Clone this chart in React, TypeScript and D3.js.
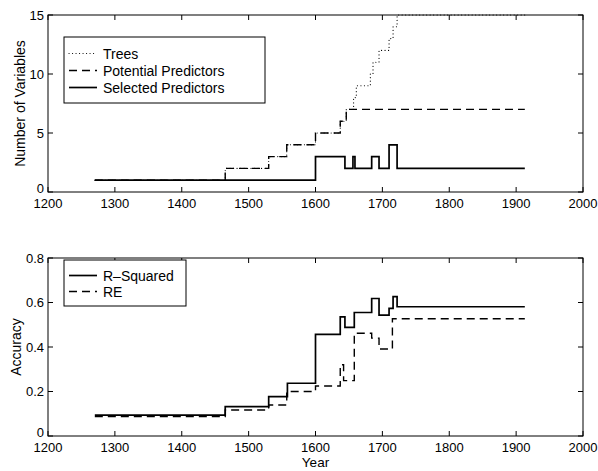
import React, { useRef, useEffect } from 'react';
import * as d3 from 'd3';

// step series: [year, value] — each value holds until the next year
const END_YEAR = 1913;

const trees = [
  [1270, 1], [1465, 2], [1530, 3], [1557, 4], [1600, 5], [1637, 6], [1646, 7],
  [1657, 8], [1661, 9], [1682, 10], [1686, 11], [1695, 12], [1710, 13], [1716, 14], [1722, 15],
];
const potentialPredictors = [
  [1270, 1], [1465, 2], [1530, 3], [1557, 4], [1600, 5], [1637, 6], [1646, 7],
];
const selectedPredictors = [
  [1270, 1], [1600, 3], [1644, 2], [1656, 3], [1659, 2], [1684, 3], [1695, 2], [1710, 4], [1722, 2],
];

const rSquared = [
  [1270, 0.094], [1465, 0.132], [1530, 0.177], [1558, 0.237], [1600, 0.457], [1637, 0.535],
  [1644, 0.488], [1658, 0.555], [1684, 0.618], [1695, 0.543], [1710, 0.574], [1716, 0.626], [1722, 0.581],
];
const re = [
  [1270, 0.087], [1465, 0.117], [1530, 0.139], [1557, 0.2], [1600, 0.225], [1637, 0.32],
  [1642, 0.249], [1658, 0.462], [1684, 0.44], [1695, 0.391], [1715, 0.527],
];

const xTicks = [1200, 1300, 1400, 1500, 1600, 1700, 1800, 1900, 2000];
const topYTicks = [0, 5, 10, 15];
const bottomYTicks = [0, 0.2, 0.4, 0.6, 0.8];

const FONT = '"Liberation Sans", Arial, Helvetica, sans-serif';

const withEnd = (s) => [...s, [END_YEAR, s[s.length - 1][1]]];

export default function App() {
  const ref = useRef(null);

  useEffect(() => {
    const svg = d3.select(ref.current);
    svg.selectAll('*').remove();

    const left = 48, right = 583;
    const x = d3.scaleLinear().domain([1200, 2000]).range([left, right]);

    const drawPanel = (top, bottom, yDomain, yTicks, yFmt, series, yLabel, yLabelX, legendBox) => {
      const y = d3.scaleLinear().domain(yDomain).range([bottom, top]);
      const g = svg.append('g');

      const line = d3.line().x(d => x(d[0])).y(d => y(d[1])).curve(d3.curveStepAfter);
      series.forEach(s => {
        g.append('path')
          .datum(withEnd(s.data))
          .attr('fill', 'none')
          .attr('stroke', '#000')
          .attr('stroke-width', s.width)
          .attr('stroke-dasharray', s.dash)
          .attr('stroke-linecap', s.cap || 'butt')
          .attr('d', line);
      });

      // box + inward ticks (both sides)
      g.append('rect')
        .attr('x', left).attr('y', top)
        .attr('width', right - left).attr('height', bottom - top)
        .attr('fill', 'none').attr('stroke', '#000').attr('stroke-width', 1);

      xTicks.forEach(t => {
        g.append('line').attr('x1', x(t)).attr('x2', x(t)).attr('y1', bottom).attr('y2', bottom - 5).attr('stroke', '#000');
        g.append('line').attr('x1', x(t)).attr('x2', x(t)).attr('y1', top).attr('y2', top + 5).attr('stroke', '#000');
        g.append('text')
          .attr('x', x(t)).attr('y', bottom + 16)
          .attr('text-anchor', 'middle')
          .style('font-family', FONT).style('font-size', '13px')
          .text(t);
      });
      yTicks.forEach(t => {
        g.append('line').attr('x1', left).attr('x2', left + 5).attr('y1', y(t)).attr('y2', y(t)).attr('stroke', '#000');
        g.append('line').attr('x1', right).attr('x2', right - 5).attr('y1', y(t)).attr('y2', y(t)).attr('stroke', '#000');
        g.append('text')
          .attr('x', left - 4).attr('y', y(t) - (t === 0 ? 4 : 0))
          .attr('dy', '0.36em')
          .attr('text-anchor', 'end')
          .style('font-family', FONT).style('font-size', '13px')
          .text(yFmt(t));
      });

      g.append('text')
        .attr('transform', `translate(${yLabelX},${(top + bottom) / 2}) rotate(-90)`)
        .attr('text-anchor', 'middle')
        .style('font-family', FONT).style('font-size', '14px')
        .text(yLabel);

      // legend
      const lg = g.append('g');
      lg.append('rect')
        .attr('x', legendBox.x).attr('y', legendBox.y)
        .attr('width', legendBox.w).attr('height', legendBox.h)
        .attr('fill', '#fff').attr('stroke', '#000').attr('stroke-width', 1);
      series.forEach((s, i) => {
        const ly = legendBox.y + legendBox.first + i * legendBox.step;
        lg.append('line')
          .attr('x1', legendBox.x + 5).attr('x2', legendBox.x + 33)
          .attr('y1', ly).attr('y2', ly)
          .attr('stroke', '#000')
          .attr('stroke-width', s.width)
          .attr('stroke-dasharray', s.dash)
          .attr('stroke-linecap', s.cap || 'butt');
        lg.append('text')
          .attr('x', legendBox.x + 39).attr('y', ly)
          .attr('dy', '0.36em')
          .style('font-family', FONT).style('font-size', '14px')
          .text(s.name);
      });
    };

    const topSeries = [
      { name: 'Trees', data: trees, width: 1.1, dash: '0.1,3.4', cap: 'round' },
      { name: 'Potential Predictors', data: potentialPredictors, width: 1.4, dash: '8,5' },
      { name: 'Selected Predictors', data: selectedPredictors, width: 1.7, dash: null },
    ];
    drawPanel(15, 192, [0, 15], topYTicks, d => d, topSeries,
      'Number of Variables', 25, { x: 64, y: 37, w: 201, h: 66, first: 16.5, step: 17 });

    const bottomSeries = [
      { name: 'R\u2013Squared', data: rSquared, width: 1.7, dash: null },
      { name: 'RE', data: re, width: 1.4, dash: '8,5' },
    ];
    drawPanel(258, 436, [0, 0.8], bottomYTicks, d => (d === 0 ? '0' : d3.format('.1f')(d)), bottomSeries,
      'Accuracy', 21, { x: 64, y: 260, w: 122, h: 46, first: 15.5, step: 16 });

    svg.append('text')
      .attr('x', x(1600)).attr('y', 467)
      .attr('text-anchor', 'middle')
      .style('font-family', FONT).style('font-size', '13.5px')
      .text('Year');
  }, []);

  return (
    <svg ref={ref} width={598} height={471}
      style={{ position: 'absolute', left: 0, top: 0, background: '#fff', display: 'block' }} />
  );
}
